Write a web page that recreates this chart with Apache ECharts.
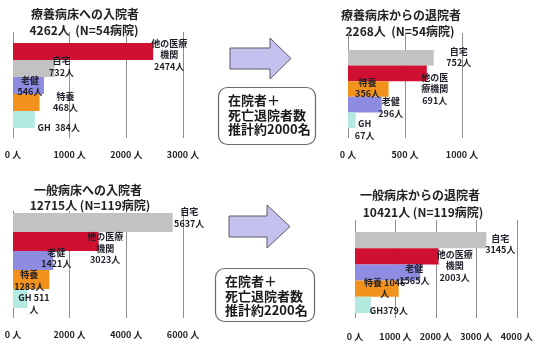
<!DOCTYPE html>
<html>
<head>
<meta charset="utf-8">
<script src="https://cdn.jsdelivr.net/npm/echarts@6/dist/echarts.min.js"></script>
<style>
  html, body { margin: 0; padding: 0; background: #fff; }
  #chart { width: 536px; height: 345px; }
</style>
</head>
<body>
<div id="chart"></div>
<script>
// 療養病床への入院者
const catsInLong = ['他の医療機関', '自宅', '老健', '特養', 'GH'];
const valsInLong = [2474, 732, 546, 468, 384];
const textInLong = ['他の医療\n機関\n{v}人', '自宅\n{v}人', '老健\n{v}人', '特養\n{v}人', 'GH  {v}人'];

// 療養病床からの退院者
const catsOutLong = ['自宅', '他の医療機関', '特養', '老健', 'GH'];
const valsOutLong = [752, 691, 356, 296, 67];
const textOutLong = ['自宅\n{v}人', '他の医\n療機関\n{v}人', '特養\n{v}人', '老健\n{v}人', 'GH\n{v}人'];

// 一般病床への入院者
const catsInGen = ['自宅', '他の医療機関', '老健', '特養', 'GH'];
const valsInGen = [5637, 3023, 1421, 1283, 511];
const textInGen = ['自宅\n{v}人', '他の医療\n機関\n{v}人', '老健\n{v}人', '特養\n{v}人', 'GH {v}\n人'];

// 一般病床からの退院者
const catsOutGen = ['自宅', '他の医療機関', '老健', '特養', 'GH'];
const valsOutGen = [3145, 2003, 1565, 1046, 379];
const textOutGen = ['自宅\n{v}人', '他の医療\n機関\n{v}人', '老健\n{v}人', '特養 {v}\n人', 'GH{v}人'];

// axis scales: [max, interval]
const axisInLong = [3000, 1000];
const axisOutLong = [1000, 500];
const axisInGen = [6000, 2000];
const axisOutGen = [4000, 1000];

// panel titles
const titlesInLong = ['療養病床への入院者', '4262人  (N=54病院)'];
const titlesOutLong = ['療養病床からの退院者', '2268人  (N=54病院)'];
const titlesInGen = ['一般病床への入院者', '12715人 (N=119病院)'];
const titlesOutGen = ['一般病床からの退院者', '10421人 (N=119病院)'];

// middle notes
const noteTop = ['在院者＋', '死亡退院者数', '推計約2000名'];
const noteBottom = ['在院者＋', '死亡退院者数', '推計約2200名'];

const FONT = '"Noto Sans CJK JP", "Noto Sans", sans-serif';
const categoryColors = {
  '他の医療機関': '#cf1030',
  '自宅': '#c2c2c2',
  '老健': '#8e8ce0',
  '特養': '#f0921c',
  'GH': '#b2eadf'
};

// layout of each panel (frame = grid lines area, bars = band area)
const panels = [
  { cats: catsInLong, vals: valsInLong, text: textInLong, axis: axisInLong, titles: titlesInLong,
    left: 13, width: 170, top: 32, height: 106, barTop: 43, barHeight: 85, labelMargin: 12,
    titleX: [85, 84], titleY: [14, 30],
    offsets: [[16, 3.5], [7, -2], [-14, 0.5], [26, -0.5], [24, 8.5]] },
  { cats: catsOutLong, vals: valsOutLong, text: textOutLong, axis: axisOutLong, titles: titlesOutLong,
    left: 348, width: 114, top: 33, height: 105, barTop: 50, barHeight: 78, labelMargin: 12,
    titleX: [401, 400], titleY: [15, 31],
    offsets: [[25, -0.5], [8, 15.5], [-21, -1], [9, 3], [9, 9.5]] },
  { cats: catsInGen, vals: valsInGen, text: textInGen, axis: axisInGen, titles: titlesInGen,
    left: 13, width: 170, top: 211, height: 107, barTop: 213, barHeight: 95, labelMargin: 12,
    titleX: [88, 90], titleY: [190, 205],
    offsets: [[16.5, -5], [6.5, 7], [3, -2.5], [-20, 1], [6.5, 5]] },
  { cats: catsOutGen, vals: valsOutGen, text: textOutGen, axis: axisOutGen, titles: titlesOutGen,
    left: 355, width: 167, top: 220, height: 98, barTop: 232, barHeight: 81, labelMargin: 14,
    titleX: [420, 423], titleY: [195, 212],
    offsets: [[14, 4], [16, 9.5], [-6, 2], [-14, -0.5], [18, 6]] }
];

const grid = [], xAxis = [], yAxis = [], series = [], graphic = [];

panels.forEach((p, i) => {
  const fi = 2 * i, bi = 2 * i + 1;
  grid.push({ left: p.left, width: p.width, top: p.top, height: p.height });
  grid.push({ left: p.left, width: p.width, top: p.barTop, height: p.barHeight });

  xAxis.push({
    gridIndex: fi, type: 'value', min: 0, max: p.axis[0], interval: p.axis[1],
    axisLine: { show: false }, axisTick: { show: false },
    splitLine: { show: true, lineStyle: { color: '#8e8e8e', width: 1 } },
    axisLabel: {
      formatter: v => v + ' 人', fontSize: 9, fontWeight: 'bold', color: '#222',
      fontFamily: FONT, margin: p.labelMargin
    }
  });
  xAxis.push({ gridIndex: bi, type: 'value', min: 0, max: p.axis[0], show: false });

  yAxis.push({ gridIndex: fi, type: 'value', min: 0, max: 1, show: false });
  yAxis.push({ gridIndex: bi, type: 'category', data: p.cats, inverse: true, show: false });

  series.push({
    type: 'bar',
    xAxisIndex: bi, yAxisIndex: bi,
    barCategoryGap: '0%',
    silent: true,
    data: p.vals.map((v, j) => ({
      value: v,
      itemStyle: { color: categoryColors[p.cats[j]] },
      label: { offset: p.offsets[j] }
    })),
    label: {
      show: true, position: 'right', distance: 0,
      align: 'center', verticalAlign: 'middle',
      formatter: prm => p.text[prm.dataIndex].replace('{v}', prm.value),
      fontSize: 9, fontWeight: 'bold', lineHeight: 11.5, color: '#1f1f2a', fontFamily: FONT
    }
  });

  p.titles.forEach((t, k) => {
    graphic.push({
      type: 'text', x: p.titleX[k], y: p.titleY[k],
      style: {
        text: t, fill: '#222', font: 'bold 12px ' + FONT,
        textAlign: 'center', textVerticalAlign: 'middle'
      }
    });
  });
});

// arrows between the panels
function arrow(x0, x1, x2, bodyTop, bodyBottom, headTop, headBottom) {
  const mid = (headTop + headBottom) / 2;
  return {
    type: 'polygon',
    shape: { points: [[x0, bodyTop], [x1, bodyTop], [x1, headTop], [x2, mid],
                      [x1, headBottom], [x1, bodyBottom], [x0, bodyBottom]] },
    style: { fill: '#c4c1ef', stroke: '#5a5a66', lineWidth: 1 }
  };
}
graphic.push(arrow(230, 270, 291, 48, 69, 38, 79));
graphic.push(arrow(229, 267, 290, 216, 237, 205, 248));

// note boxes
function note(x, y, w, h, lines, tx, ty) {
  return [
    { type: 'rect', shape: { x: x, y: y, width: w, height: h, r: 9 },
      style: { fill: '#fff', stroke: '#6a6a6a', lineWidth: 1.2 } },
    { type: 'text', x: tx, y: ty,
      style: { text: lines.join('\n'), fill: '#1a1a1a', font: 'bold 13px ' + FONT,
               lineHeight: 14.5, textAlign: 'left', textVerticalAlign: 'top' } }
  ];
}
graphic.push(...note(218.5, 87.5, 97, 57, noteTop, 228, 93));
graphic.push(...note(215.5, 268.5, 99, 53, noteBottom, 225, 274));

const chart = echarts.init(document.getElementById('chart'), null, { renderer: 'canvas' });
chart.setOption({
  animation: false,
  backgroundColor: '#fff',
  textStyle: { fontFamily: FONT },
  grid, xAxis, yAxis, series, graphic
});
</script>
</body>
</html>
